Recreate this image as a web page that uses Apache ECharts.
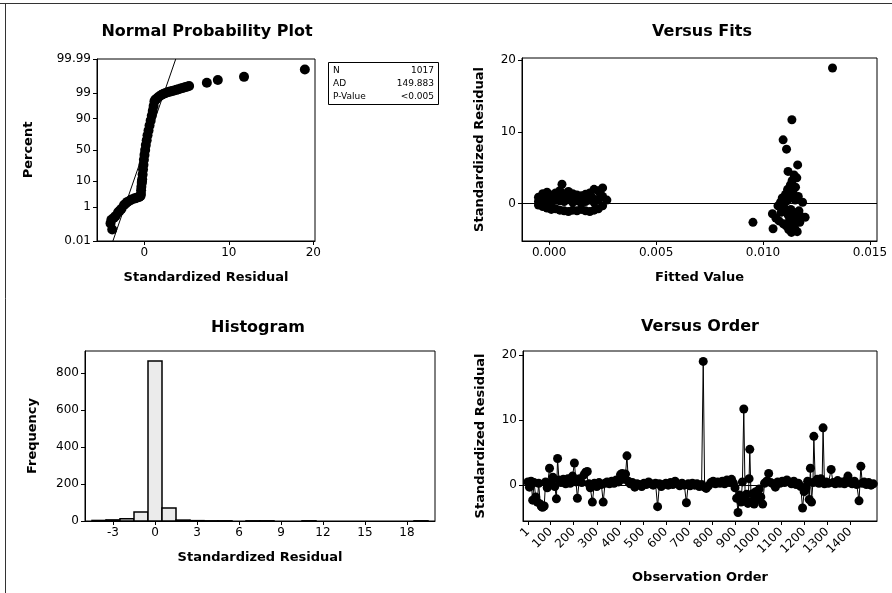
<!DOCTYPE html>
<html>
<head>
<meta charset="utf-8">
<title>Residual Plots</title>
<script src="https://cdn.jsdelivr.net/npm/echarts@6/dist/echarts.min.js"></script>
<style>
  html, body { margin: 0; padding: 0; background: #fff; }
  #main { width: 892px; height: 593px; }
</style>
</head>
<body>
<div id="main"></div>
<script>
// ---------- Normal probability plot (sorted standardized residuals vs percent) ----------
const probResid = [-3.8, -4.0, -3.9, -3.6, -3.4, -3.1, -2.9, -2.7, -2.4, -2.2, -2.0, -1.7, -1.5, -1.2, -1.0, -0.8, -0.6, -0.45,
  -0.4, -0.38, -0.35, -0.3, -0.28, -0.25, -0.2, -0.15, -0.1, -0.05, 0.02, 0.1, 0.18, 0.28, 0.38,
  0.5, 0.62, 0.75, 0.88, 1.0, 1.1, 1.2, 1.3, 1.45, 1.6, 1.8, 2.05, 2.3, 2.55, 2.8, 3.05, 3.3, 3.55, 3.8, 4.05, 4.3, 4.55, 4.8, 5.05, 5.3,
  7.4, 8.7, 11.8, 19.0];
const probPct = [0.058, 0.135, 0.22, 0.28, 0.35, 0.54, 0.66, 0.82, 1.22, 1.45, 1.7, 1.95, 2.17, 2.35, 2.5, 2.62, 2.74, 3.0,
  3.6, 4.95, 6.7, 8.85, 10.1, 11.5, 15.9, 21.2, 27.4, 34.5, 42.1, 50, 57.9, 65.5, 72.6,
  78.8, 84.1, 88.5, 91.9, 94.5, 96.4, 97.7, 98.0, 98.2, 98.4, 98.6, 98.8, 98.93, 99.02, 99.1, 99.15, 99.2, 99.25, 99.3, 99.35, 99.4, 99.44, 99.48, 99.52, 99.55,
  99.70, 99.79, 99.86, 99.95];
// Reference normal line (mean 0, sd 1)
const fitLineResid = [-3.719, 3.719];
const fitLinePct = [0.01, 99.99];
const pctTickLabels = ['0.01', '1', '10', '50', '90', '99', '99.99'];
const pctTickValues = [0.01, 1, 10, 50, 90, 99, 99.99];
const probXTicks = [0, 10, 20];
const statNames = ['N', 'AD', 'P-Value'];
const statValues = ['1017', '149.883', '<0.005'];

// ---------- Versus fits ----------
const fittedValues = [
  -0.0005, -0.0005, -0.0005, -0.0003, -0.0003, -0.0003, -0.0001, -0.0001, -0.0001,
  0.0001, 0.0001, 0.0001, 0.0003, 0.0003, 0.0003, 0.0005, 0.0005, 0.0005, 0.0006,
  0.0007, 0.0007, 0.0007, 0.0009, 0.0009, 0.0009, 0.0011, 0.0011, 0.0011,
  0.0013, 0.0013, 0.0013, 0.0015, 0.0015, 0.0015, 0.0017, 0.0017, 0.0017,
  0.0019, 0.0019, 0.0019, 0.0021, 0.0021, 0.0021, 0.0023, 0.0023, 0.0023,
  0.0025, 0.0025, 0.0025, 0.0027,
  0.0000, 0.0004, 0.0008, 0.0012, 0.0016, 0.0020, 0.0024,
  0.00953, 0.01047, 0.01044, 0.01060, 0.01070, 0.01075, 0.01082, 0.01085, 0.01090, 0.01094,
  0.01095, 0.01100, 0.01105, 0.01108, 0.01110, 0.01112, 0.01115, 0.01117, 0.01118, 0.01120,
  0.01122, 0.01125, 0.01128, 0.01130, 0.01133, 0.01135, 0.01136, 0.01138, 0.01140, 0.01142,
  0.01145, 0.01148, 0.01150, 0.01152, 0.01155, 0.01158, 0.01160, 0.01162, 0.01165, 0.01168,
  0.01172, 0.01178, 0.01185, 0.01197, 0.01325];
const fitResiduals = [
  0.9, 0.3, -0.2, 1.4, 0.4, -0.4, 1.6, 0.5, -0.6,
  1.2, 0.2, -0.8, 1.5, 0.5, -0.7, 1.8, 0.4, -0.9, 2.7,
  1.4, 0.3, -1.0, 1.7, 0.6, -1.1, 1.4, 0.2, -0.9,
  1.2, 0.4, -1.0, 1.1, 0.1, -0.8, 1.3, 0.3, -1.0,
  1.5, 0.5, -1.1, 2.0, 0.2, -0.9, 1.8, 0.6, -0.7,
  2.2, 1.0, -0.3, 0.5,
  0.9, 1.0, 0.9, 0.8, 0.7, 0.9, 1.3,
  -2.6, -3.5, -1.4, -2.0, -0.3, -2.4, 0.2, -1.2, 0.8, 8.9,
  -2.8, -0.6, 1.3, -3.1, 7.6, 0.4, 2.0, 4.5, -1.6, -3.6,
  1.0, -2.2, 2.6, -0.8, -4.0, 11.7, 3.2, -2.9, 1.6, -1.2,
  4.0, -3.4, 0.5, 2.3, -2.0, 3.6, -3.9, 5.4, 1.0, -1.0,
  -2.6, -1.8, 0.2, -1.9, 18.9];
const fitsXTicks = [0, 0.005, 0.010, 0.015];
const residTicks = [0, 10, 20];

// ---------- Histogram ----------
const histMids = [-4, -3, -2, -1, 0, 1, 2, 3, 4, 5, 7, 8, 11, 19];
const histCounts = [3, 6, 12, 48, 865, 70, 5, 2, 1, 1, 1, 1, 1, 1];
const histXTicks = [-3, 0, 3, 6, 9, 12, 15, 18];
const histYTicks = [0, 200, 400, 600, 800];

// ---------- Versus order ----------
const orderObs = [
  1, 8, 15, 22, 28, 35, 42, 48, 55, 60, 65, 72, 78, 85, 95, 102, 110, 118, 125, 130,
  136, 145, 155, 165, 175, 185, 195, 203, 210, 216, 225, 235, 245, 252, 259, 266, 272, 281, 290, 300,
  310, 320, 328, 336, 345, 355, 365, 375, 385, 395, 403, 410, 418, 425, 431, 437, 445, 455, 465, 475,
  485, 495, 505, 515, 525, 535, 545, 555, 564, 572, 580, 590, 600, 610, 620, 630, 640, 650, 660, 670,
  680, 689, 697, 705, 715, 725, 735, 745, 755, 762, 768, 775, 785, 795, 805, 815, 825, 835, 845, 855,
  865, 875, 885, 893, 900, 907, 913, 920, 926, 932, 938, 944, 950, 956, 961, 964, 970, 976, 983, 990,
  997, 1005, 1012, 1020, 1028, 1037, 1046, 1055, 1065, 1075, 1085, 1095, 1105, 1115, 1125, 1135, 1145, 1155, 1165, 1175,
  1185, 1193, 1200, 1208, 1215, 1222, 1227, 1232, 1238, 1242, 1248, 1256, 1264, 1272, 1278, 1282, 1288, 1296, 1305, 1317,
  1325, 1335, 1345, 1355, 1365, 1375, 1385, 1390, 1398, 1408, 1418, 1428, 1438, 1446, 1452, 1460, 1470, 1480, 1490, 1500];
const orderResid = [
  0.5, -0.3, 0.6, -2.3, 0.4, -1.8, -2.6, 0.3, -2.9, -3.3, -3.4, -3.2, 0.5, -0.4, 2.6, 0.3, 1.2, -0.2, -2.1, 4.1,
  0.8, 0.4, 0.9, 0.2, 1.0, 0.3, 1.4, 3.4, 0.5, -2.0, 1.0, 0.4, 1.6, 2.0, 2.1, 0.2, -0.4, -2.6, 0.3, -0.2,
  0.4, 0.1, -2.6, 0.3, 0.5, 0.2, 0.6, 0.3, 0.8, 0.5, 1.6, 1.8, 0.9, 1.7, 4.5, 0.6, 0.2, 0.4, -0.3, 0.2,
  0.1, -0.2, 0.3, 0.1, 0.5, 0.2, 0.0, 0.3, -3.3, 0.2, -0.2, 0.1, 0.3, 0.0, 0.4, 0.1, 0.6, 0.2, -0.1, 0.3,
  0.0, -2.7, 0.2, -0.1, 0.3, 0.0, 0.2, -0.2, 0.1, 19.0, -0.3, -0.5, -0.1, 0.4, 0.6, 0.2, 0.5, 0.3, 0.6, 0.2,
  0.8, 0.4, 0.9, 0.3, -0.4, -2.0, -4.2, -1.5, -2.6, 0.5, 11.7, -2.2, -1.4, -2.8, 1.0, 5.5, -2.5, -1.3, -2.9, -1.0,
  -2.2, -0.6, -1.8, -2.9, 0.3, 0.6, 1.8, 0.4, 0.2, -0.3, 0.5, 0.3, 0.6, 0.4, 0.8, 0.5, 0.2, 0.6, 0.1, 0.3,
  -0.2, -3.5, -1.0, -0.4, 0.6, -2.2, 2.6, -2.6, 0.4, 7.5, 0.5, 0.9, 0.3, 1.0, 0.6, 8.8, 0.2, 0.5, 0.3, 2.4,
  0.4, 0.2, 0.7, 0.3, 0.5, 0.2, 0.8, 1.4, 0.4, 0.2, 0.6, 0.1, -2.4, 2.9, 0.3, 0.5, 0.1, 0.4, 0.0, 0.2];
const orderXTicks = [1, 100, 200, 300, 400, 500, 600, 700, 800, 900, 1000, 1100, 1200, 1300, 1400];

// Inverse of the standard normal CDF, used for the probability scale
function normInv(p) {
  const a = [-3.969683028665376e+01, 2.209460984245205e+02, -2.759285104469687e+02, 1.383577518672690e+02, -3.066479806614716e+01, 2.506628277459239e+00];
  const b = [-5.447609879822406e+01, 1.615858368580409e+02, -1.556989798598866e+02, 6.680131188771972e+01, -1.328068155288572e+01];
  const c = [-7.784894002430293e-03, -3.223964580411365e-01, -2.400758277161838e+00, -2.549732539343734e+00, 4.374664141464968e+00, 2.938163982698783e+00];
  const d = [7.784695709041462e-03, 3.224671290700398e-01, 2.445134137142996e+00, 3.754408661907416e+00];
  const pl = 0.02425, ph = 1 - pl;
  let q, r;
  if (p < pl) {
    q = Math.sqrt(-2 * Math.log(p));
    return (((((c[0] * q + c[1]) * q + c[2]) * q + c[3]) * q + c[4]) * q + c[5]) / ((((d[0] * q + d[1]) * q + d[2]) * q + d[3]) * q + 1);
  }
  if (p <= ph) {
    q = p - 0.5; r = q * q;
    return (((((a[0] * r + a[1]) * r + a[2]) * r + a[3]) * r + a[4]) * r + a[5]) * q / (((((b[0] * r + b[1]) * r + b[2]) * r + b[3]) * r + b[4]) * r + 1);
  }
  q = Math.sqrt(-2 * Math.log(1 - p));
  return -(((((c[0] * q + c[1]) * q + c[2]) * q + c[3]) * q + c[4]) * q + c[5]) / ((((d[0] * q + d[1]) * q + d[2]) * q + d[3]) * q + 1);
}

const FONT = '"DejaVu Sans", Verdana, sans-serif';
const zTicks = pctTickValues.map(p => normInv(p / 100));
const zMin = normInv(0.0001), zMax = normInv(0.9999);

function tickSet(values) {
  return {
    axisTick: { show: true, inside: false, length: 4, lineStyle: { color: '#000', width: 1 }, customValues: values },
    axisLabel: { show: true, color: '#000', fontFamily: FONT, fontSize: 12, margin: 6, customValues: values, hideOverlap: false }
  };
}
function baseAxis(extra) {
  const ax = {
    type: 'value',
    axisLine: { show: true, onZero: false, lineStyle: { color: '#000', width: 1 } },
    splitLine: { show: false },
    nameLocation: 'middle',
    nameTextStyle: { color: '#000', fontFamily: FONT, fontSize: 13, fontWeight: 'bold' }
  };
  return Object.assign(ax, extra);
}
function merge(a, b) {
  const out = Object.assign({}, a);
  for (const k in b) {
    out[k] = (typeof b[k] === 'object' && !Array.isArray(b[k]) && out[k]) ? Object.assign({}, out[k], b[k]) : b[k];
  }
  return out;
}

const gridStyle = { show: true, borderColor: '#000', borderWidth: 1, backgroundColor: 'transparent', containLabel: false };

const probAxisY = merge(baseAxis({ min: zMin, max: zMax, name: 'Percent', nameGap: 62, gridIndex: 0 }), tickSet(zTicks));
probAxisY.axisLabel.formatter = function (v) {
  for (let i = 0; i < zTicks.length; i++) if (Math.abs(zTicks[i] - v) < 1e-6) return pctTickLabels[i];
  return '';
};

const fmt3 = v => v.toFixed(3);
const fmtPlain = v => String(Math.round(v));
const dot = { color: '#000', opacity: 1 };

const option = {
  animation: false,
  backgroundColor: '#fff',
  grid: [
    Object.assign({ left: 97, top: 59, width: 218, height: 182 }, gridStyle),
    Object.assign({ left: 522, top: 58, width: 355, height: 183 }, gridStyle),
    Object.assign({ left: 85, top: 351, width: 350, height: 170 }, gridStyle),
    Object.assign({ left: 523, top: 351, width: 354, height: 170 }, gridStyle)
  ],
  xAxis: [
    merge(baseAxis({ gridIndex: 0, min: -5.6, max: 20.2, name: 'Standardized Residual', nameGap: 30 }), tickSet(probXTicks)),
    merge(baseAxis({ gridIndex: 1, min: -0.00127, max: 0.01533, name: 'Fitted Value', nameGap: 30 }),
      merge(tickSet(fitsXTicks), { axisLabel: { formatter: fmt3 } })),
    merge(baseAxis({ gridIndex: 2, min: -5, max: 20, name: 'Standardized Residual', nameGap: 30 }), tickSet(histXTicks)),
    merge(baseAxis({ gridIndex: 3, min: -20, max: 1516, name: 'Observation Order', nameGap: 50 }),
      merge(tickSet(orderXTicks), { axisLabel: { rotate: 45, fontSize: 12, margin: 9, formatter: fmtPlain } }))
  ],
  yAxis: [
    probAxisY,
    merge(baseAxis({ gridIndex: 1, min: -5.2, max: 20.3, name: 'Standardized Residual', nameGap: 36 }), tickSet(residTicks)),
    merge(baseAxis({ gridIndex: 2, min: 0, max: 919, name: 'Frequency', nameGap: 46 }), tickSet(histYTicks)),
    merge(baseAxis({ gridIndex: 3, min: -5.5, max: 20.6, name: 'Standardized Residual', nameGap: 36 }), tickSet(residTicks))
  ],
  series: [
    {
      type: 'scatter', xAxisIndex: 0, yAxisIndex: 0, symbol: 'circle', symbolSize: 10,
      itemStyle: dot, silent: true,
      data: probResid.map((x, i) => [x, normInv(probPct[i] / 100)])
    },
    {
      type: 'line', xAxisIndex: 0, yAxisIndex: 0, symbol: 'none', silent: true,
      lineStyle: { color: '#000', width: 1 }, clip: true,
      data: fitLineResid.map((x, i) => [x, normInv(fitLinePct[i] / 100)])
    },
    {
      type: 'scatter', xAxisIndex: 1, yAxisIndex: 1, symbol: 'circle', symbolSize: 9,
      itemStyle: dot, silent: true,
      data: fittedValues.map((x, i) => [x, fitResiduals[i]]),
      markLine: {
        silent: true, symbol: 'none', label: { show: false },
        lineStyle: { color: '#000', width: 1, type: 'solid' },
        data: [{ yAxis: 0 }]
      }
    },
    {
      type: 'custom', xAxisIndex: 2, yAxisIndex: 2, silent: true,
      encode: { x: 0, y: 1 },
      data: histMids.map((m, i) => [m, histCounts[i]]),
      renderItem: function (params, api) {
        const m = api.value(0), c = api.value(1);
        const p0 = api.coord([m - 0.5, c]);
        const p1 = api.coord([m + 0.5, 0]);
        return {
          type: 'rect',
          shape: { x: p0[0], y: p0[1], width: p1[0] - p0[0], height: p1[1] - p0[1] },
          style: { fill: '#ebebeb', stroke: '#000', lineWidth: 1.5 }
        };
      }
    },
    {
      type: 'line', xAxisIndex: 3, yAxisIndex: 3, symbol: 'circle', symbolSize: 9, showSymbol: true,
      showAllSymbol: true, silent: true,
      itemStyle: dot, lineStyle: { color: '#000', width: 1 },
      data: orderObs.map((o, i) => [o, orderResid[i]]),
      markLine: {
        silent: true, symbol: 'none', label: { show: false },
        lineStyle: { color: '#000', width: 1, type: 'solid' },
        data: [{ yAxis: 0 }]
      }
    }
  ],
  graphic: [
    // outer frame edges
    { type: 'line', shape: { x1: 0, y1: 3.5, x2: 892, y2: 3.5 }, style: { stroke: '#333', lineWidth: 1 } },
    { type: 'line', shape: { x1: 5.5, y1: 3.5, x2: 5.5, y2: 593 }, style: { stroke: '#333', lineWidth: 1 } },
    // panel titles
    { type: 'text', x: 207, y: 32, style: { text: 'Normal Probability Plot', font: 'bold 16px ' + FONT, fill: '#000', align: 'center', verticalAlign: 'middle', textAlign: 'center', textVerticalAlign: 'middle' } },
    { type: 'text', x: 702, y: 32, style: { text: 'Versus Fits', font: 'bold 16px ' + FONT, fill: '#000', align: 'center', verticalAlign: 'middle', textAlign: 'center', textVerticalAlign: 'middle' } },
    { type: 'text', x: 258, y: 328, style: { text: 'Histogram', font: 'bold 16px ' + FONT, fill: '#000', align: 'center', verticalAlign: 'middle', textAlign: 'center', textVerticalAlign: 'middle' } },
    { type: 'text', x: 700, y: 327, style: { text: 'Versus Order', font: 'bold 16px ' + FONT, fill: '#000', align: 'center', verticalAlign: 'middle', textAlign: 'center', textVerticalAlign: 'middle' } },
    // statistics box
    { type: 'rect', shape: { x: 328.5, y: 62.5, width: 110, height: 42 }, style: { fill: '#fff', stroke: '#000', lineWidth: 1 } }
  ].concat(statNames.map((n, i) => ({
    type: 'text', x: 333, y: 71 + i * 13,
    style: { text: n, font: '9px ' + FONT, fill: '#000', align: 'left', verticalAlign: 'middle', textAlign: 'left', textVerticalAlign: 'middle' }
  }))).concat(statValues.map((v, i) => ({
    type: 'text', x: 434, y: 71 + i * 13,
    style: { text: v, font: '9px ' + FONT, fill: '#000', align: 'right', verticalAlign: 'middle', textAlign: 'right', textVerticalAlign: 'middle' }
  })))
};

const chart = echarts.init(document.getElementById('main'), null, { renderer: 'canvas' });
chart.setOption(option);
</script>
</body>
</html>
